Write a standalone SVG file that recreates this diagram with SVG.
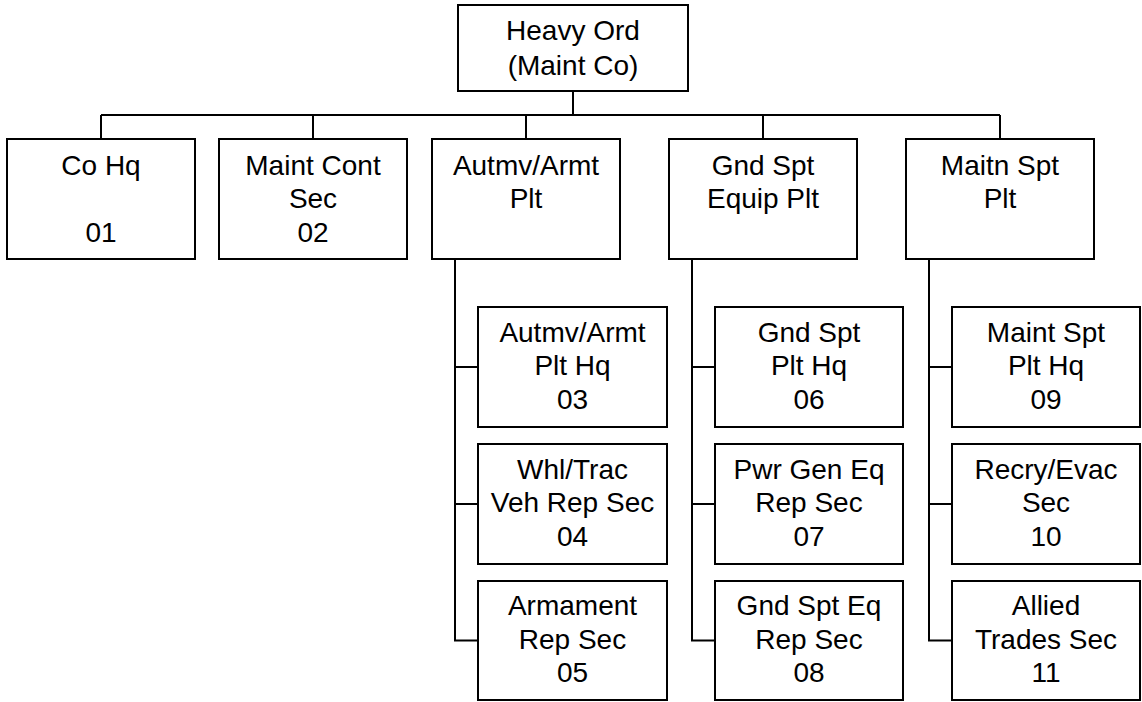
<svg xmlns="http://www.w3.org/2000/svg" width="1142" height="702" viewBox="0 0 1142 702">
<style>
.box{fill:#fff;stroke:#000;stroke-width:2}
.lbl{font-family:"Liberation Sans",Arial,sans-serif;font-size:28px;fill:#000;text-anchor:middle}
.con{fill:none;stroke:#000;stroke-width:2}
</style>
<rect width="1142" height="702" fill="#fff"/>
<g id="connectors" class="con">
<path d="M573 91V115M101 115H1000M101 115V139M313 115V139M526 115V139M763 115V139M1000 115V139"/>
<path d="M455 259V640.5H478M455 367H478M455 504H478"/>
<path d="M692 259V640.5H715M692 367H715M692 504H715"/>
<path d="M929 259V640.5H952M929 367H952M929 504H952"/>
</g>
<g id="n-root"><rect class="box" x="458" y="5" width="230" height="86"/><text class="lbl" x="573" y="39.5">Heavy Ord</text><text class="lbl" x="573" y="74.5">(Maint Co)</text></g>
<g id="n-01"><rect class="box" x="7" y="139" width="188" height="120"/><text class="lbl" x="101" y="174.5">Co Hq</text><text class="lbl" x="101" y="241.5">01</text></g>
<g id="n-02"><rect class="box" x="219" y="139" width="188" height="120"/><text class="lbl" x="313" y="174.5">Maint Cont</text><text class="lbl" x="313" y="208">Sec</text><text class="lbl" x="313" y="241.5">02</text></g>
<g id="n-autmv"><rect class="box" x="432" y="139" width="188" height="120"/><text class="lbl" x="526" y="174.5">Autmv/Armt</text><text class="lbl" x="526" y="208">Plt</text></g>
<g id="n-gnd"><rect class="box" x="669" y="139" width="188" height="120"/><text class="lbl" x="763" y="174.5">Gnd Spt</text><text class="lbl" x="763" y="208">Equip Plt</text></g>
<g id="n-maitn"><rect class="box" x="906" y="139" width="188" height="120"/><text class="lbl" x="1000" y="174.5">Maitn Spt</text><text class="lbl" x="1000" y="208">Plt</text></g>
<g id="n-03"><rect class="box" x="478" y="307" width="189" height="120"/><text class="lbl" x="572.5" y="341.5">Autmv/Armt</text><text class="lbl" x="572.5" y="375">Plt Hq</text><text class="lbl" x="572.5" y="408.5">03</text></g>
<g id="n-04"><rect class="box" x="478" y="444" width="189" height="120"/><text class="lbl" x="572.5" y="478.5">Whl/Trac</text><text class="lbl" x="572.5" y="512">Veh Rep Sec</text><text class="lbl" x="572.5" y="545.5">04</text></g>
<g id="n-05"><rect class="box" x="478" y="581" width="189" height="119"/><text class="lbl" x="572.5" y="615">Armament</text><text class="lbl" x="572.5" y="648.5">Rep Sec</text><text class="lbl" x="572.5" y="682">05</text></g>
<g id="n-06"><rect class="box" x="715" y="307" width="188" height="120"/><text class="lbl" x="809" y="341.5">Gnd Spt</text><text class="lbl" x="809" y="375">Plt Hq</text><text class="lbl" x="809" y="408.5">06</text></g>
<g id="n-07"><rect class="box" x="715" y="444" width="188" height="120"/><text class="lbl" x="809" y="478.5">Pwr Gen Eq</text><text class="lbl" x="809" y="512">Rep Sec</text><text class="lbl" x="809" y="545.5">07</text></g>
<g id="n-08"><rect class="box" x="715" y="581" width="188" height="119"/><text class="lbl" x="809" y="615">Gnd Spt Eq</text><text class="lbl" x="809" y="648.5">Rep Sec</text><text class="lbl" x="809" y="682">08</text></g>
<g id="n-09"><rect class="box" x="952" y="307" width="188" height="120"/><text class="lbl" x="1046" y="341.5">Maint Spt</text><text class="lbl" x="1046" y="375">Plt Hq</text><text class="lbl" x="1046" y="408.5">09</text></g>
<g id="n-10"><rect class="box" x="952" y="444" width="188" height="120"/><text class="lbl" x="1046" y="478.5">Recry/Evac</text><text class="lbl" x="1046" y="512">Sec</text><text class="lbl" x="1046" y="545.5">10</text></g>
<g id="n-11"><rect class="box" x="952" y="581" width="188" height="119"/><text class="lbl" x="1046" y="615">Allied</text><text class="lbl" x="1046" y="648.5">Trades Sec</text><text class="lbl" x="1046" y="682">11</text></g>
</svg>
